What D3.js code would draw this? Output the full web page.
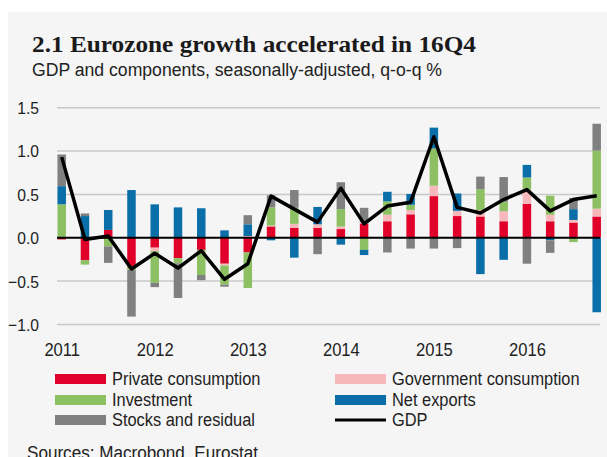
<!DOCTYPE html>
<html>
<head>
<meta charset="utf-8">
<script src="https://cdn.jsdelivr.net/npm/d3@7"></script>
<style>
  html, body { margin: 0; padding: 0; background: #ffffff; }
  svg { display: block; }
  .narrow { font-family: "Liberation Sans Narrow", "Arial Narrow", "Liberation Sans", Arial, sans-serif; }
</style>
</head>
<body>
<svg id="chart" width="607" height="457"></svg>
<script>
const quarters = ["2011Q1","2011Q2","2011Q3","2011Q4","2012Q1","2012Q2","2012Q3","2012Q4",
  "2013Q1","2013Q2","2013Q3","2013Q4","2014Q1","2014Q2","2014Q3","2014Q4",
  "2015Q1","2015Q2","2015Q3","2015Q4","2016Q1","2016Q2","2016Q3","2016Q4"];
const privateConsumption = [-0.02,-0.26,0.09,-0.33,-0.115,-0.235,-0.14,-0.30,-0.17,0.13,0.115,0.115,0.10,0.165,0.19,0.27,0.48,0.25,0.245,0.19,0.39,0.19,0.175,0.245];
const governmentConsumption = [0,0,0,0,-0.04,0,0,-0.02,0.02,0.01,0.045,0.04,0.03,0.01,0.075,0.05,0.12,0.06,0.075,0.115,0.165,0.075,0.03,0.09];
const investment = [0.385,-0.05,-0.10,-0.04,-0.365,-0.06,-0.29,-0.22,-0.41,0.21,0.185,0,0.20,-0.14,0.155,0.06,0.43,0,0.24,0.11,0.14,0.22,-0.05,0.67];
const netExports = [0.21,0.25,0.23,0.55,0.385,0.35,0.34,0.085,0.135,-0.03,-0.23,0.20,-0.08,-0.06,0.11,0.125,0.24,0.20,-0.42,-0.255,0.145,-0.03,0.125,-0.86];
const stocksResidual = [0.365,0.03,-0.19,-0.54,-0.05,-0.40,-0.06,-0.025,0.105,0.14,0.205,-0.19,0.31,0.17,-0.17,-0.125,-0.125,-0.12,0.145,0.285,-0.30,-0.145,0.13,0.31];
const gdp = [0.93,-0.02,0.02,-0.36,-0.18,-0.35,-0.15,-0.48,-0.30,0.48,0.33,0.18,0.57,0.16,0.365,0.41,1.165,0.35,0.285,0.44,0.555,0.31,0.44,0.485];
const yTicks = [-1.0,-0.5,0.0,0.5,1.0,1.5];
const seriesNames = ["Private consumption","Government consumption","Investment","Net exports","Stocks and residual"];
const seriesColors = ["#e0002a","#f6b8ba","#8dc063","#0a6ea8","#808080"];

function condense(sel, f) {
  sel.each(function() {
    const w = this.getComputedTextLength();
    d3.select(this).attr("textLength", w * f).attr("lengthAdjust", "spacingAndGlyphs");
  });
}

const svg = d3.select("#chart");
// panel background
svg.append("rect").attr("x",8).attr("y",12).attr("width",599).attr("height",445).attr("fill","#f5f5f5");

// title
svg.append("text").attr("x",32).attr("y",52)
  .attr("font-family","'Liberation Serif', 'DejaVu Serif', serif").attr("font-weight","bold")
  .attr("font-size",23).attr("fill","#1a1a1a")
  .attr("textLength",444).attr("lengthAdjust","spacingAndGlyphs")
  .text("2.1 Eurozone growth accelerated in 16Q4");
svg.append("text").attr("class","narrow").attr("x",32).attr("y",76)
  .attr("font-size",18).attr("fill","#222")
  .attr("textLength",410).attr("lengthAdjust","spacingAndGlyphs")
  .text("GDP and components, seasonally-adjusted, q-o-q %");

const y = d3.scaleLinear().domain([-1,1.5]).range([324.4,107.7]);
const x = d3.scalePoint().domain(quarters).range([61.7,596.7]);
const barW = 8.5;

// gridlines
svg.append("g").selectAll("line").data(yTicks.filter(d => d !== 0)).join("line")
  .attr("x1",57).attr("x2",600).attr("y1",d=>y(d)).attr("y2",d=>y(d))
  .attr("stroke","#c8c8c8").attr("stroke-width",1.5);

// y axis labels
const yAxis = d3.axisLeft(y).tickValues(yTicks).tickFormat(d3.format(".1f")).tickSize(0).tickPadding(0);
const gy = svg.append("g").attr("transform","translate(39,0)").call(yAxis);
gy.select(".domain").remove();
gy.selectAll("text").attr("class","narrow").attr("font-size",17).attr("fill","#222").attr("dy","0.35em");
condense(gy.selectAll("text"), 0.92);

// stacked bars
const rows = quarters.map((q,i)=>({q, s0:privateConsumption[i], s1:governmentConsumption[i], s2:investment[i], s3:netExports[i], s4:stocksResidual[i]}));
const stack = d3.stack().keys(["s0","s1","s2","s3","s4"]).offset(d3.stackOffsetDiverging);
const layers = stack(rows);
svg.append("g").selectAll("g").data(layers).join("g")
  .attr("fill",(d,i)=>seriesColors[i])
  .selectAll("rect").data(d=>d).join("rect")
  .attr("x",d=>x(d.data.q)-barW/2).attr("width",barW)
  .attr("y",d=>y(Math.max(d[0],d[1])))
  .attr("height",d=>Math.abs(y(d[0])-y(d[1])));

// zero line
svg.append("line").attr("x1",57).attr("x2",600).attr("y1",y(0)).attr("y2",y(0))
  .attr("stroke","#000").attr("stroke-width",2);

// GDP line
const line = d3.line().x((d,i)=>x(quarters[i])).y(d=>y(d));
svg.append("path").datum(gdp).attr("d",line).attr("fill","none")
  .attr("stroke","#000").attr("stroke-width",3.5).attr("stroke-linejoin","round");

// x labels
const xAxis = d3.axisBottom(x).tickValues(quarters.filter(q=>q.endsWith("Q1"))).tickFormat(q=>q.slice(0,4)).tickSize(0).tickPadding(0);
const gx = svg.append("g").attr("transform","translate(0,343)").call(xAxis);
gx.select(".domain").remove();
gx.selectAll("text").attr("class","narrow").attr("font-size",18).attr("fill","#222").attr("dy","0.71em");
condense(gx.selectAll("text"), 0.92);

// legend
const legendItems = [
  {name:seriesNames[0], color:seriesColors[0], col:0, row:0, type:"rect"},
  {name:seriesNames[1], color:seriesColors[1], col:1, row:0, type:"rect"},
  {name:seriesNames[2], color:seriesColors[2], col:0, row:1, type:"rect"},
  {name:seriesNames[3], color:seriesColors[3], col:1, row:1, type:"rect"},
  {name:seriesNames[4], color:seriesColors[4], col:0, row:2, type:"rect"},
  {name:"GDP", color:"#000", col:1, row:2, type:"line"}
];
const colX = [55,335], rowY = [379,400,420];
const lg = svg.append("g").selectAll("g").data(legendItems).join("g")
  .attr("transform",d=>`translate(${colX[d.col]},${rowY[d.row]})`);
lg.filter(d=>d.type==="rect").append("rect").attr("x",0).attr("y",-5).attr("width",51).attr("height",10).attr("fill",d=>d.color);
lg.filter(d=>d.type==="line").append("line").attr("x1",0).attr("x2",51).attr("y1",0).attr("y2",0).attr("stroke","#000").attr("stroke-width",3);
const lt = lg.append("text").attr("class","narrow").attr("x",57).attr("y",0).attr("dy","0.35em")
  .attr("font-size",18).attr("fill","#222").text(d=>d.name);
condense(lt, 0.91);

// source
const src = svg.append("text").attr("class","narrow").attr("x",27).attr("y",459)
  .attr("font-size",18).attr("fill","#222").text("Sources: Macrobond, Eurostat");
condense(src, 0.95);
</script>
</body>
</html>
